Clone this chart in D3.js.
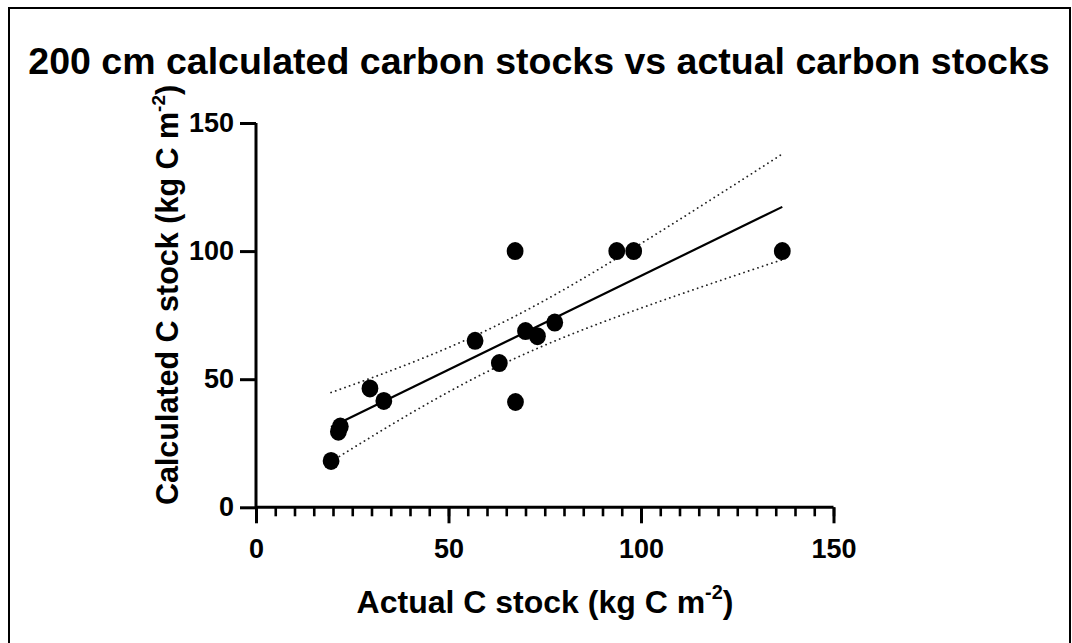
<!DOCTYPE html>
<html>
<head>
<meta charset="utf-8">
<script src="https://cdn.jsdelivr.net/npm/d3@7"></script>
<style>
  html, body { margin: 0; padding: 0; background: #fff; }
  svg { display: block; font-family: "Liberation Sans", Arial, sans-serif; }
</style>
</head>
<body>
<svg id="chart" width="1072" height="643"></svg>
<script>
// Measured stocks (kg C m-2)
const actualC = [19.5, 21.4, 21.9, 29.6, 33.2, 56.9, 63.2, 67.3, 67.4, 70.0, 73.1, 77.6, 93.7, 98.1, 136.7];
const calculatedC = [18.1, 29.5, 31.5, 46.4, 41.5, 65.0, 56.3, 100, 41.1, 68.8, 66.8, 72.1, 100, 100, 100];

const xTicks = [0, 50, 100, 150];
const yTicks = [0, 50, 100, 150];
const xMinorStep = 5;

const titleText = "200 cm calculated carbon stocks vs actual carbon stocks";
const xTitle = "Actual C stock (kg C m";
const yTitle = "Calculated C stock (kg C m";

// Student t for a two-sided 95% interval with n - 2 = 13 degrees of freedom
const tCrit = 2.160;

const svg = d3.select("#chart");
const W = 1072, H = 643;

// Frame
svg.append("path")
  .attr("d", `M9,${H} V8 H1070 V${H}`)
  .attr("fill", "none").attr("stroke", "#000").attr("stroke-width", 2);

const x = d3.scaleLinear().domain([0, 150]).range([256, 833.5]);
const y = d3.scaleLinear().domain([0, 150]).range([507.3, 123]);

// Title
svg.append("text")
  .attr("x", 539).attr("y", 74)
  .attr("text-anchor", "middle")
  .attr("font-size", 37.5).attr("font-weight", "bold")
  .text(titleText);

// Linear regression and its 95% confidence band
const n = actualC.length;
const mx = d3.mean(actualC), my = d3.mean(calculatedC);
let sxx = 0, sxy = 0;
for (let i = 0; i < n; i++) {
  sxx += (actualC[i] - mx) ** 2;
  sxy += (actualC[i] - mx) * (calculatedC[i] - my);
}
const slope = sxy / sxx;
const intercept = my - slope * mx;
let sse = 0;
for (let i = 0; i < n; i++) sse += (calculatedC[i] - (intercept + slope * actualC[i])) ** 2;
const se = Math.sqrt(sse / (n - 2));

const xMin = d3.min(actualC), xMax = d3.max(actualC);
const grid = d3.range(0, 61).map(i => xMin + (xMax - xMin) * i / 60);
const half = v => tCrit * se * Math.sqrt(1 / n + (v - mx) ** 2 / sxx);
const fit = v => intercept + slope * v;

const line = d3.line().x(d => x(d[0])).y(d => y(d[1]));

const bands = svg.append("g");
[1, -1].forEach(sign => {
  bands.append("path")
    .attr("d", line(grid.map(v => [v, fit(v) + sign * half(v)])))
    .attr("fill", "none")
    .attr("stroke", "#222")
    .attr("stroke-width", 1.8)
    .attr("stroke-linecap", "round")
    .attr("stroke-dasharray", "0.1,4.8");
});

svg.append("path")
  .attr("d", line([[xMin, fit(xMin)], [xMax, fit(xMax)]]))
  .attr("fill", "none").attr("stroke", "#000").attr("stroke-width", 2.2);

// Points
svg.append("g").selectAll("ellipse")
  .data(d3.zip(actualC, calculatedC))
  .join("ellipse")
  .attr("cx", d => x(d[0]))
  .attr("cy", d => y(d[1]))
  .attr("rx", 8.4)
  .attr("ry", 9)
  .attr("fill", "#000");

// X axis with minor ticks
const xAxisG = svg.append("g").attr("transform", `translate(0,${y(0)})`);
xAxisG.call(d3.axisBottom(x).tickValues(d3.range(0, 151, xMinorStep)).tickSize(9).tickFormat(""));
xAxisG.selectAll(".tick line").attr("stroke-width", 2.6);
const xMajor = svg.append("g").attr("transform", `translate(0,${y(0)})`);
xMajor.call(d3.axisBottom(x).tickValues(xTicks).tickSize(16).tickPadding(16));
xMajor.select(".domain").remove();
xMajor.selectAll(".tick line").attr("stroke-width", 3);
xAxisG.select(".domain").attr("stroke-width", 3).attr("d", `M${x(0)},0H${x(150)}`);
xMajor.selectAll(".tick text")
  .attr("font-size", 27).attr("font-weight", "bold")
  .attr("font-family", "Liberation Sans, Arial, sans-serif").attr("fill", "#000");

// Y axis
const yAxisG = svg.append("g").attr("transform", `translate(${x(0)},0)`);
yAxisG.call(d3.axisLeft(y).tickValues(yTicks).tickSize(16).tickPadding(6));
yAxisG.select(".domain").attr("stroke-width", 3).attr("d", `M0,${y(150)}V${y(0)}`);
yAxisG.selectAll(".tick line").attr("stroke-width", 3);
yAxisG.selectAll(".tick text")
  .attr("font-size", 27).attr("font-weight", "bold")
  .attr("font-family", "Liberation Sans, Arial, sans-serif").attr("fill", "#000");

// Axis titles with superscript exponent
function unitTitle(g, base, size) {
  const t = g.append("text")
    .attr("text-anchor", "middle")
    .attr("font-size", size).attr("font-weight", "bold");
  t.append("tspan").text(base);
  t.append("tspan").attr("font-size", size * 0.62).attr("dy", -size * 0.43).text("-2");
  t.append("tspan").attr("dy", size * 0.43).text(")");
  return t;
}
unitTitle(svg.append("g").attr("transform", "translate(545,613)"), xTitle, 32);
unitTitle(svg.append("g").attr("transform", "translate(178,295) rotate(-90)"), yTitle, 30.5);
</script>
</body>
</html>
